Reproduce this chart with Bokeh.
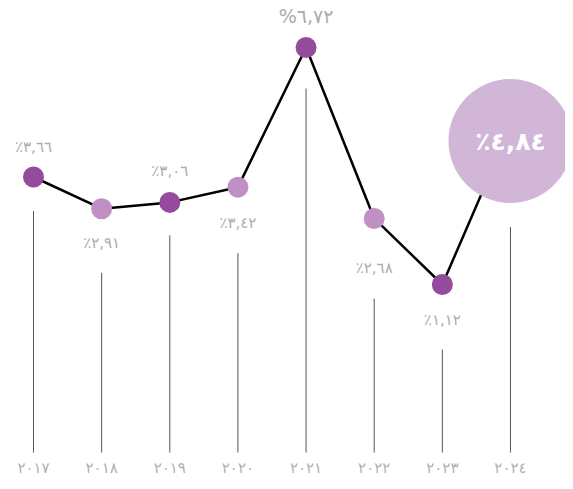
from bokeh.plotting import figure
from bokeh.models import Range1d, ColumnDataSource
from bokeh.core.properties import value
from bokeh.embed import file_html
from bokeh.resources import INLINE

# ---- data ----
years = ["٢٠١٧", "٢٠١٨", "٢٠١٩", "٢٠٢٠", "٢٠٢١", "٢٠٢٢", "٢٠٢٣", "٢٠٢٤"]
rates = [3.66, 2.91, 3.06, 3.42, 6.72, 2.68, 1.12, 4.84]
rate_labels = ["٪٣,٦٦", "٪٢,٩١", "٪٣,٠٦", "٪٣,٤٢", "%٦,٧٢", "٪٢,٦٨", "٪١,١٢", "٪٤,٨٤"]

# ---- layout / style ----
W, H = 565, 481
PX_PER_X = 68.14
PX_PER_Y = 42.32
x_start = -33 / PX_PER_X
x_end = x_start + W / PX_PER_X
y_top = max(rates) + 47 / PX_PER_Y
y_bot = y_top - H / PX_PER_Y


def y_from_px(px):
    return y_top - px / PX_PER_Y


xs = list(range(len(years)))
dark, light, big = "#944b9b", "#c08fc4", "#d2b6d8"
colors = [dark, light, dark, light, dark, light, dark]
label_offsets = [-30, 34, -31, 36, -32, 50, 36]
label_sizes = ["15px", "15px", "15px", "15px", "19px", "15px", "15px"]
stem_gaps = [34, 64, 33, 66, 41, 80, 65, 100]
stem_bottom_px = 452
year_label_px = 467
big_dy_px = 14

p = figure(width=W, height=H, output_backend="svg", toolbar_location=None,
           x_range=Range1d(x_start, x_end), y_range=Range1d(y_bot, y_top),
           min_border=0, outline_line_color=None)
p.axis.visible = False
p.grid.visible = False
p.background_fill_color = "white"
p.border_fill_color = "white"

# stems
p.segment(x0=xs, x1=xs,
          y0=[v - g / PX_PER_Y for v, g in zip(rates, stem_gaps)],
          y1=[y_from_px(stem_bottom_px)] * len(xs),
          line_color="#555555", line_width=1)

# line
p.line(xs, rates, line_color="black", line_width=2.5)

# points
src = ColumnDataSource(dict(x=xs[:-1], y=rates[:-1], c=colors,
                            t=rate_labels[:-1], off=label_offsets, fs=label_sizes))
p.scatter("x", "y", source=src, size=21, fill_color="c", line_color=None)
p.text("x", "y", text="t", source=src, y_offset="off", text_font_size="fs",
       text_font=value("DejaVu Sans"), text_color="#ababab",
       text_align="center", text_baseline="middle")

# big bubble
p.scatter([xs[-1]], [rates[-1] - big_dy_px / PX_PER_Y], size=124,
          fill_color=big, line_color=None)
p.text([xs[-1]], [rates[-1] - big_dy_px / PX_PER_Y], text=[rate_labels[-1]],
       text_font_size="25px", text_font_style="bold", text_color="white",
       text_font=value("DejaVu Sans"), text_align="center", text_baseline="middle")

# year labels
p.text(xs, [y_from_px(year_label_px)] * len(xs), text=years,
       text_font_size="15px", text_color="#b0b0b0", text_font=value("DejaVu Sans"),
       text_align="center", text_baseline="middle")

open("out.html", "w").write(file_html(p, INLINE))
